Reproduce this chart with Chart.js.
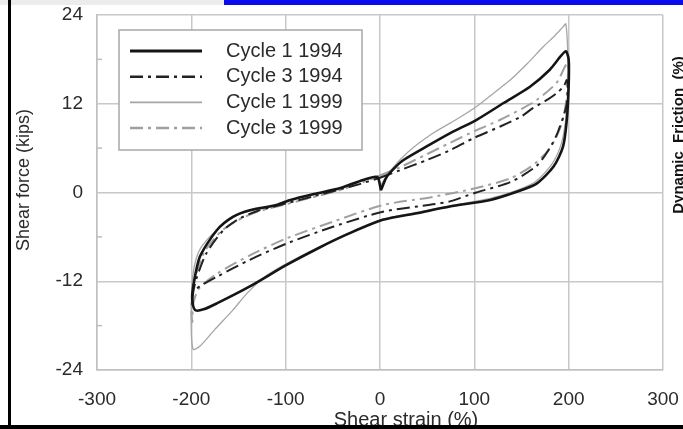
<!DOCTYPE html>
<html>
<head>
<meta charset="utf-8">
<script src="https://cdn.jsdelivr.net/npm/chart.js@4.4.1/dist/chart.umd.min.js"></script>
<style>
  html, body { margin: 0; padding: 0; background: #fff; overflow: hidden; }
  #wrap { position: relative; width: 683px; height: 429px; overflow: hidden; }
  #hysteresisChart { position: absolute; left: 0; top: 0; }
  .strip-grey { position: absolute; left: 0; top: 0; width: 224px; height: 5px; background: #ececec; }
  .strip-blue { position: absolute; left: 224px; top: 0; width: 459px; height: 5px; background: #0a0aee; }
  .frame-left { position: absolute; left: 8px; top: 0; width: 3px; height: 429px; background: #000; }
  .frame-bottom { position: absolute; left: 0; top: 425px; width: 683px; height: 4px; background: #000; }
</style>
</head>
<body>
<div id="wrap">
  <canvas id="hysteresisChart" width="683" height="450"></canvas>
  <div class="strip-grey"></div>
  <div class="strip-blue"></div>
  <div class="frame-left"></div>
  <div class="frame-bottom"></div>
</div>
<script>
// axis ticks
const strainTicks = [-300, -200, -100, 0, 100, 200, 300];
const forceTicks = [-24, -12, 0, 12, 24];
const forceMinorTicks = [-18, -6, 6, 18];

const seriesLabels = ['Cycle 1 1994', 'Cycle 3 1994', 'Cycle 1 1999', 'Cycle 3 1999'];

// shear strain (%) / shear force (kips)
const c1_1994_x = [1, 7, 16, 25, 49, 74, 102, 131, 159, 180, 192, 197, 200, 200, 198, 194, 184, 166, 145, 117, 74, 39, 3, -32, -65, -99, -138, -173, -187, -196, -199, -198, -191, -173, -156, -138, -110, -95, -70, -42, -18, -3, 1];
const c1_1994_y = [0.3, 2.1, 3.4, 4.4, 6.2, 8.0, 9.8, 12.1, 14.3, 16.6, 18.5, 19.1, 18.0, 14.5, 9.8, 6.2, 3.5, 1.2, 0.1, -1.0, -1.9, -2.8, -3.7, -5.5, -7.5, -9.8, -12.7, -15.0, -15.8, -15.9, -14.5, -12.7, -8.7, -5.1, -3.3, -2.4, -1.7, -1.0, -0.2, 0.6, 1.7, 2.1, 0.3];

const c3_1994_x = [0, 21, 50, 74, 100, 127, 150, 162, 178, 187, 195, 198, 199, 198, 195, 188, 180, 166, 138, 102, 74, 56, 3, -49, -99, -138, -173, -190, -198, -199, -198, -195, -184, -166, -150, -130, -100, -70, -40, -20, 0];
const c3_1994_y = [2.0, 3.0, 4.4, 5.7, 7.4, 8.9, 10.3, 11.4, 12.6, 13.4, 14.4, 15.2, 14.0, 12.0, 10.5, 8.0, 6.0, 3.6, 1.4, 0.0, -1.2, -1.6, -2.6, -4.6, -6.9, -9.1, -11.4, -12.6, -13.5, -15.5, -13.5, -11.8, -8.2, -5.1, -3.6, -2.5, -1.5, -0.5, 0.5, 1.2, 2.0];

const c1_1999_x = [0, 10, 30, 56, 80, 102, 120, 138, 156, 173, 186, 194, 197, 199, 199, 197, 192, 182, 165, 145, 117, 74, 39, 3, -32, -65, -99, -120, -140, -156, -175, -191, -198, -200, -200, -199, -196, -190, -175, -156, -138, -110, -95, -70, -42, -18, -3, 0];
const c1_1999_y = [0.8, 2.8, 5.5, 8.0, 9.8, 11.6, 13.4, 15.2, 17.4, 19.7, 21.3, 22.4, 22.8, 19.0, 14.0, 10.0, 6.5, 3.8, 1.5, 0.3, -0.8, -1.8, -2.7, -3.6, -5.4, -7.4, -9.6, -11.2, -13.5, -15.9, -18.5, -20.8, -21.2, -19.0, -15.0, -12.0, -9.5, -7.5, -5.3, -3.4, -2.5, -1.8, -1.1, -0.3, 0.5, 1.6, 2.0, 0.8];

const c3_1999_x = [0, 21, 50, 74, 100, 127, 150, 166, 187, 196, 199, 199, 197, 193, 185, 175, 160, 138, 102, 56, 3, -49, -99, -138, -173, -192, -198, -199, -200, -199, -196, -186, -168, -150, -130, -100, -70, -40, -20, 0];
const c3_1999_y = [2.3, 3.4, 5.2, 6.7, 8.3, 9.8, 11.3, 12.5, 14.8, 17.0, 17.5, 15.0, 12.0, 9.5, 7.0, 5.2, 3.5, 1.9, 0.6, -0.6, -1.7, -3.9, -6.2, -8.5, -11.0, -13.0, -15.0, -17.5, -16.0, -13.5, -11.5, -8.0, -5.2, -3.7, -2.6, -1.6, -0.6, 0.4, 1.3, 2.3];

const FONT = "'Liberation Sans', Arial, sans-serif";
const TEXT = '#2b2b2b';

function pts(xs, ys) {
    return xs.map((x, i) => ({ x: x, y: ys[i] }));
}

// legend box, minor ticks and the axis titles
const extras = {
    id: 'extras',
    afterDatasetsDraw(chart) {
        const { ctx, chartArea, scales } = chart;
        ctx.save();

        // short inward ticks between the y gridlines
        ctx.strokeStyle = '#bdbdbd';
        ctx.lineWidth = 1.5;
        forceMinorTicks.forEach(v => {
            const py = scales.y.getPixelForValue(v);
            ctx.beginPath();
            ctx.moveTo(chartArea.left, py);
            ctx.lineTo(chartArea.left + 5, py);
            ctx.stroke();
        });

        // legend
        const bx = chartArea.left + 22, by = chartArea.top + 15, bw = 243, bh = 120;
        ctx.fillStyle = '#fff';
        ctx.fillRect(bx, by, bw, bh);
        ctx.strokeStyle = '#a8a8a8';
        ctx.lineWidth = 1.5;
        ctx.strokeRect(bx, by, bw, bh);
        ctx.font = '20px ' + FONT;
        ctx.textBaseline = 'middle';
        ctx.textAlign = 'left';
        chart.data.datasets.forEach((ds, i) => {
            const ry = by + 21 + i * 25.7;
            ctx.strokeStyle = ds.borderColor;
            ctx.lineWidth = ds.borderWidth + 0.5;
            ctx.setLineDash(ds.borderDash || []);
            ctx.beginPath();
            ctx.moveTo(bx + 11, ry);
            ctx.lineTo(bx + 83, ry);
            ctx.stroke();
            ctx.setLineDash([]);
            ctx.fillStyle = TEXT;
            ctx.fillText(ds.label, bx + 107, ry);
        });

        // axis titles
        ctx.fillStyle = TEXT;
        ctx.textAlign = 'center';
        ctx.textBaseline = 'middle';
        ctx.font = '20px ' + FONT;
        ctx.fillText('Shear strain (%)', 406, 420);

        ctx.save();
        ctx.translate(24, 180);
        ctx.rotate(-Math.PI / 2);
        ctx.font = '18px ' + FONT;
        ctx.fillText('Shear force (kips)', 0, 0);
        ctx.restore();

        ctx.save();
        ctx.translate(679, 135);
        ctx.rotate(-Math.PI / 2);
        ctx.font = 'bold 15px ' + FONT;
        ctx.fillStyle = '#111';
        ctx.fillText('Dynamic  Friction  (%)', 0, 0);
        ctx.restore();

        ctx.restore();
    }
};

const ctx = document.getElementById('hysteresisChart').getContext('2d');

new Chart(ctx, {
    type: 'scatter',
    data: {
        datasets: [
            {
                label: seriesLabels[0],
                data: pts(c1_1994_x, c1_1994_y),
                borderColor: '#151515',
                borderWidth: 2.6
            },
            {
                label: seriesLabels[1],
                data: pts(c3_1994_x, c3_1994_y),
                borderColor: '#222',
                borderWidth: 2,
                borderDash: [13, 5, 3, 5]
            },
            {
                label: seriesLabels[2],
                data: pts(c1_1999_x, c1_1999_y),
                borderColor: '#a6a6a6',
                borderWidth: 1.3
            },
            {
                label: seriesLabels[3],
                data: pts(c3_1999_x, c3_1999_y),
                borderColor: '#a0a0a0',
                borderWidth: 2,
                borderDash: [13, 5, 3, 5]
            }
        ]
    },
    options: {
        responsive: false,
        animation: false,
        showLine: true,
        elements: {
            point: { radius: 0 },
            line: { tension: 0.25, fill: false }
        },
        layout: { padding: { top: 15, right: 20, left: 0, bottom: 0 } },
        plugins: {
            legend: { display: false },
            tooltip: { enabled: false }
        },
        scales: {
            x: {
                type: 'linear',
                min: strainTicks[0],
                max: strainTicks[strainTicks.length - 1],
                afterBuildTicks: s => { s.ticks = strainTicks.map(v => ({ value: v })); },
                afterFit: s => { s.height = 80; },
                ticks: {
                    padding: 0,
                    maxRotation: 0,
                    color: TEXT,
                    font: { family: FONT, size: 19 }
                },
                // invisible tick marks give the label gap without padding the chart area
                grid: { color: '#c8c8c8', lineWidth: 1.5, drawTicks: true, tickLength: 18, tickColor: 'rgba(0,0,0,0)' },
                border: { color: '#c0c0c0', width: 1.5 }
            },
            y: {
                type: 'linear',
                min: forceTicks[0],
                max: forceTicks[forceTicks.length - 1],
                afterBuildTicks: s => { s.ticks = forceTicks.map(v => ({ value: v })); },
                afterFit: s => { s.width = 97; },
                ticks: {
                    padding: 0,
                    color: TEXT,
                    font: { family: FONT, size: 19 }
                },
                grid: { color: '#c8c8c8', lineWidth: 1.5, drawTicks: true, tickLength: 14, tickColor: 'rgba(0,0,0,0)' },
                border: { color: '#c0c0c0', width: 1.5 }
            }
        }
    },
    plugins: [extras]
});
</script>
</body>
</html>
